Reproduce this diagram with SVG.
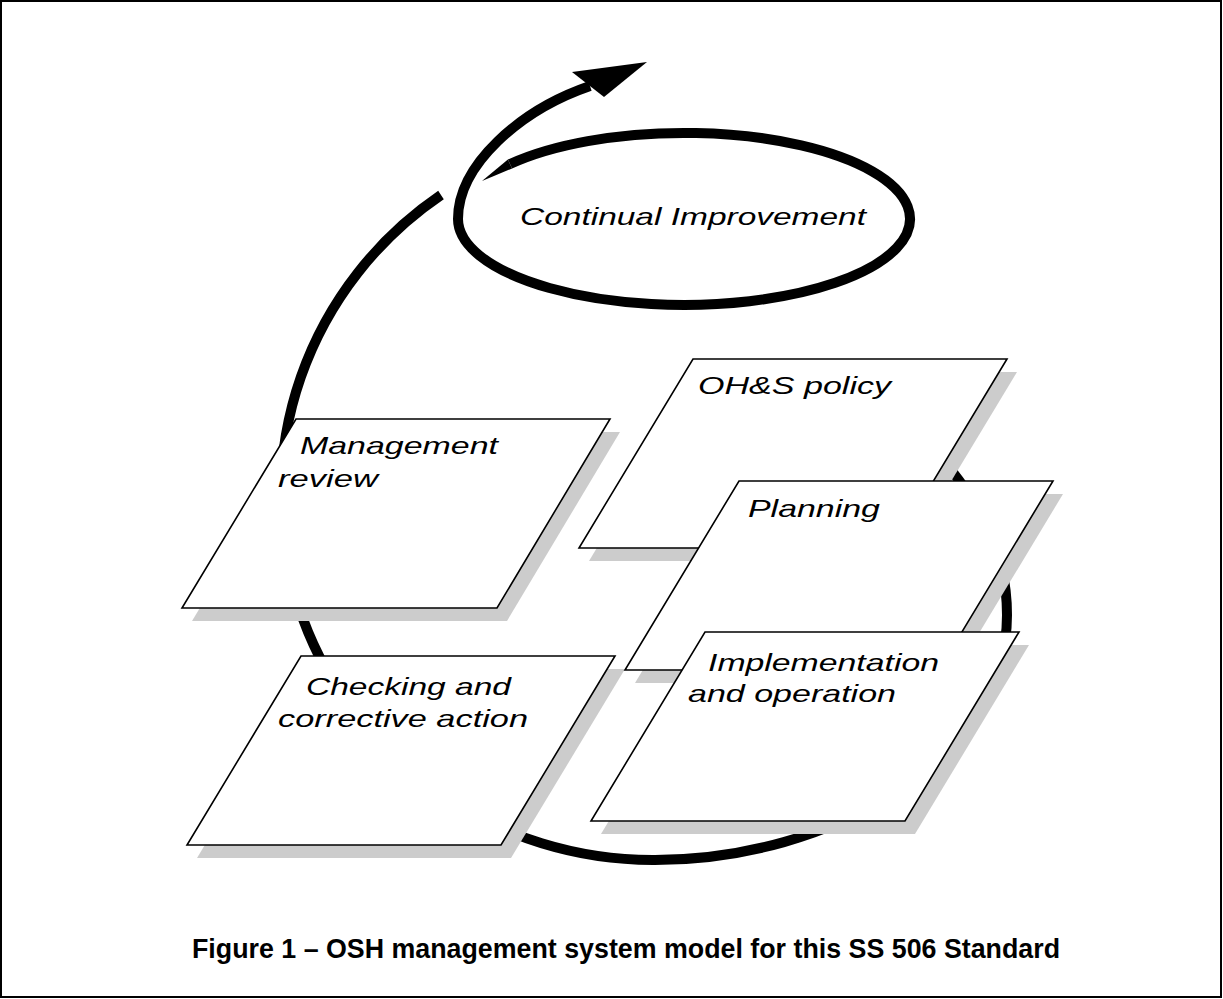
<svg xmlns="http://www.w3.org/2000/svg" width="1223" height="999" viewBox="0 0 1223 999">
<defs>
<style>
.shadow{fill:#cccccc;stroke:none}
.box{fill:#ffffff;stroke:#000000;stroke-width:1.6;stroke-linejoin:miter}
.lbl{font-family:"Liberation Sans",Arial,sans-serif;font-style:italic;font-size:24px;fill:#000000}
.loop{fill:none;stroke:#000000;stroke-width:10;stroke-linecap:butt}
.cap{font-family:"Liberation Sans",Arial,sans-serif;font-weight:bold;font-size:27px;fill:#000000}
</style>
</defs>
<rect x="0" y="0" width="1223" height="999" fill="#ffffff"/>
<rect x="1" y="1" width="1220" height="996" fill="none" stroke="#000000" stroke-width="2"/>

<g id="connectors">
  <path class="loop" d="M 930 445 C 975 495 1007 545 1007 615 C 1007 760 830 860 655 860 A 372 365 0 0 1 441 195"/>
  <path class="loop" d="M 510 164 A 226 86 0 1 1 458 219 C 458 165 520 110 590 86"/>
  <polygon points="482,181 507.9,159.5 512.1,168.5" fill="#000000"/>
  <polygon points="647,62 572,72 604,97" fill="#000000"/>
</g>

<g id="continual-improvement">
  <text class="lbl" x="520" y="225" textLength="346" lengthAdjust="spacingAndGlyphs">Continual Improvement</text>
</g>

<g id="management-review">
  <polygon class="shadow" points="306,432 620,432 507,621 192,621"/>
  <polygon class="box" points="296,419 610,419 497,608 182,608"/>
  <text class="lbl" x="300" y="454" textLength="198" lengthAdjust="spacingAndGlyphs">Management</text>
  <text class="lbl" x="278" y="487" textLength="100" lengthAdjust="spacingAndGlyphs">review</text>
</g>

<g id="checking">
  <polygon class="shadow" points="311,669 625,669 511,858 197,858"/>
  <polygon class="box" points="301,656 615,656 501,845 187,845"/>
  <text class="lbl" x="306" y="695" textLength="205" lengthAdjust="spacingAndGlyphs">Checking and</text>
  <text class="lbl" x="278" y="727" textLength="250" lengthAdjust="spacingAndGlyphs">corrective action</text>
</g>

<g id="ohs-policy">
  <polygon class="shadow" points="703,372 1017,372 903,561 589,561"/>
  <polygon class="box" points="693,359 1007,359 893,548 579,548"/>
  <text class="lbl" x="698" y="394" textLength="193" lengthAdjust="spacingAndGlyphs">OH&amp;S policy</text>
</g>

<g id="planning">
  <polygon class="shadow" points="749,494 1063,494 949,683 635,683"/>
  <polygon class="box" points="739,481 1053,481 939,670 625,670"/>
  <text class="lbl" x="748" y="517" textLength="132" lengthAdjust="spacingAndGlyphs">Planning</text>
</g>

<g id="implementation">
  <polygon class="shadow" points="715,645 1029,645 915,834 601,834"/>
  <polygon class="box" points="705,632 1019,632 905,821 591,821"/>
  <text class="lbl" x="708" y="671" textLength="231" lengthAdjust="spacingAndGlyphs">Implementation</text>
  <text class="lbl" x="688" y="702" textLength="208" lengthAdjust="spacingAndGlyphs">and operation</text>
</g>

<g id="caption">
  <text class="cap" x="192" y="958" textLength="868" lengthAdjust="spacingAndGlyphs">Figure 1 – OSH management system model for this SS 506 Standard</text>
</g>
</svg>
